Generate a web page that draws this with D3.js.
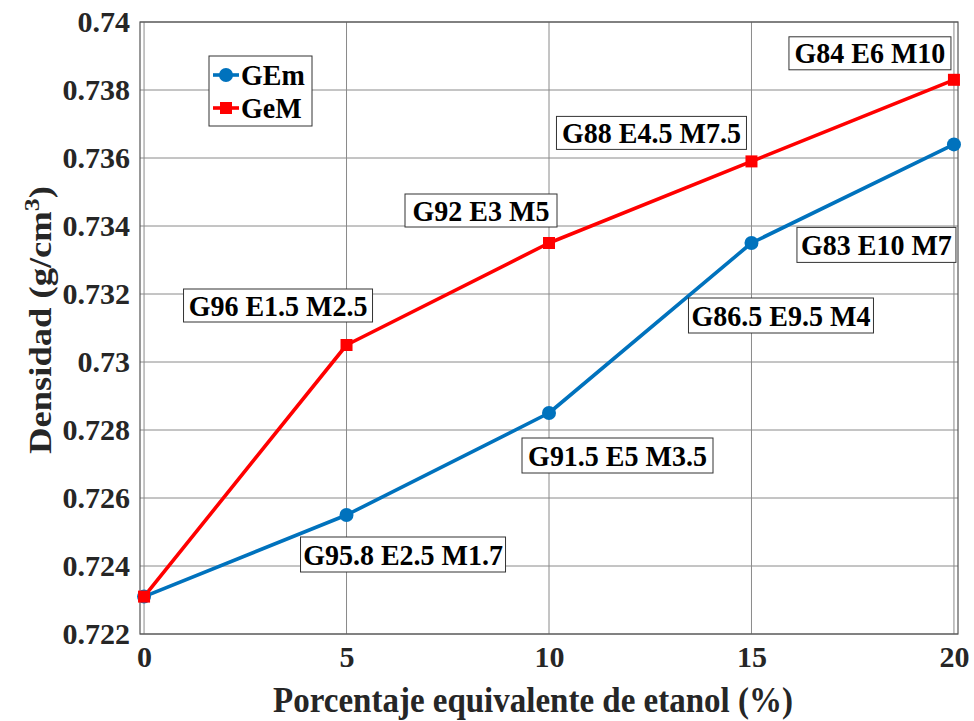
<!DOCTYPE html>
<html>
<head>
<meta charset="utf-8">
<script src="https://cdn.jsdelivr.net/npm/d3@7"></script>
<style>
  html, body { margin: 0; padding: 0; background: #fff; }
  svg { display: block; }
  text { font-family: "Liberation Serif", "Times New Roman", serif; font-weight: bold; fill: #262626; }
</style>
</head>
<body>
<script>
// Ethanol-equivalent percentage on the x axis
const ethanolPct = [0, 5, 10, 15, 20];
// Density (g/cm3) for each blend family
const densityGEm = [0.7231, 0.7255, 0.7285, 0.7335, 0.7364];
const densityGeM = [0.7231, 0.7305, 0.7335, 0.7359, 0.7383];
// Blend composition labels
const labelsGEm = ["", "G95.8 E2.5 M1.7", "G91.5 E5 M3.5", "G86.5 E9.5 M4", "G83 E10 M7"];
const labelsGeM = ["", "G96 E1.5 M2.5", "G92 E3 M5", "G88 E4.5 M7.5", "G84 E6 M10"];
const xTicks = [0, 5, 10, 15, 20];
const yTicks = [0.722, 0.724, 0.726, 0.728, 0.73, 0.732, 0.734, 0.736, 0.738, 0.74];
const seriesNames = ["GEm", "GeM"];

const W = 974, H = 721;
const pL = 140, pR = 958, pT = 22, pB = 634;

const svg = d3.select("body").append("svg").attr("width", W).attr("height", H);

const x = d3.scaleLinear().domain([-0.1, 20.1]).range([pL, pR]);
const y = d3.scaleLinear().domain([0.722, 0.74]).range([pB, pT]);

// grid
const grid = svg.append("g");
grid.selectAll(".gx").data(xTicks).enter().append("line")
  .attr("x1", d => x(d)).attr("x2", d => x(d))
  .attr("y1", pT).attr("y2", pB)
  .attr("stroke", "#8a8a8a").attr("stroke-width", 1);
grid.selectAll(".gy").data(yTicks).enter().append("line")
  .attr("x1", pL).attr("x2", pR)
  .attr("y1", d => y(d)).attr("y2", d => y(d))
  .attr("stroke", "#8a8a8a").attr("stroke-width", 1);

// frame
svg.append("rect").attr("x", pL).attr("y", pT)
  .attr("width", pR - pL).attr("height", pB - pT)
  .attr("fill", "none").attr("stroke", "#555").attr("stroke-width", 1.2);

// axes
const fmt = d => String(+d.toFixed(3));
const yAxis = d3.axisLeft(y).tickValues(yTicks).tickFormat(fmt).tickSize(0).tickPadding(10);
const gy = svg.append("g").attr("transform", `translate(${pL},0)`).call(yAxis);
gy.select(".domain").remove();
gy.selectAll("text").style("font-size", "30px").style("font-family", "'Liberation Serif', serif")
  .style("font-weight", "bold").attr("fill", "#262626");

const xAxis = d3.axisBottom(x).tickValues(xTicks).tickSize(0).tickPadding(12);
const gx = svg.append("g").attr("transform", `translate(0,${pB})`).call(xAxis);
gx.select(".domain").remove();
gx.selectAll("text").style("font-size", "30px").style("font-family", "'Liberation Serif', serif")
  .style("font-weight", "bold").attr("fill", "#262626");

// axis titles
svg.append("text").attr("transform", "translate(533,712) scale(1,1.06)")
  .attr("text-anchor", "middle").style("font-size", "33px")
  .text("Porcentaje equivalente de etanol (%)");

const yt = svg.append("text")
  .attr("transform", `translate(51,320) rotate(-90) scale(1.18,1)`)
  .attr("text-anchor", "middle").style("font-size", "31px");
yt.append("tspan").text("Densidad (g/cm");
yt.append("tspan").attr("dy", -12).style("font-size", "22px").text("3");
yt.append("tspan").attr("dy", 12).text(")");

// series
const colors = ["#0072BD", "#FF0000"];
const series = [densityGEm, densityGeM];
const line = d3.line().x((d, i) => x(ethanolPct[i])).y(d => y(d));

series.forEach((vals, s) => {
  svg.append("path").datum(vals).attr("d", line)
    .attr("fill", "none").attr("stroke", colors[s]).attr("stroke-width", 3.6)
    .attr("stroke-linejoin", "round");
});
// markers: circles for GEm, squares for GeM
svg.selectAll(".mc").data(densityGEm).enter().append("circle")
  .attr("cx", (d, i) => x(ethanolPct[i])).attr("cy", d => y(d)).attr("r", 7)
  .attr("fill", colors[0]);
svg.selectAll(".ms").data(densityGeM).enter().append("rect")
  .attr("x", (d, i) => x(ethanolPct[i]) - 6).attr("y", d => y(d) - 6)
  .attr("width", 12).attr("height", 12).attr("fill", colors[1]);

// annotation boxes: [point index, box left offset from point, box top offset from point, width]
const annGEm = [
  [1, -46, 22, 205],
  [2, -27, 25, 191],
  [3, -63, 55, 185],
  [4, -157, 83, 159]
];
const annGeM = [
  [1, -163, -56, 189],
  [2, -144, -49, 152],
  [3, -195, -45, 190],
  [4, -165, -43, 162]
];
function drawAnn(list, vals, labels, h) {
  list.forEach(([i, dx, dy, w]) => {
    const px = x(ethanolPct[i]), py = y(vals[i]);
    const g = svg.append("g").attr("transform", `translate(${px + dx},${py + dy})`);
    g.append("rect").attr("width", w).attr("height", h)
      .attr("fill", "#fff").attr("stroke", "#333").attr("stroke-width", 1);
    g.append("text").attr("transform", `translate(${w / 2},${h / 2 + 10}) scale(1,1.08)`)
      .attr("text-anchor", "middle")
      .style("font-size", "28px").style("fill", "#000").text(labels[i]);
  });
}
drawAnn(annGEm, densityGEm, labelsGEm, 35);
drawAnn(annGeM, densityGeM, labelsGeM, 33);

// legend
const lg = svg.append("g").attr("transform", "translate(209,56)");
lg.append("rect").attr("width", 103).attr("height", 70)
  .attr("fill", "#fff").attr("stroke", "#333").attr("stroke-width", 1);
seriesNames.forEach((name, s) => {
  const ly = 19 + s * 33;
  lg.append("line").attr("x1", 4).attr("x2", 30).attr("y1", ly).attr("y2", ly)
    .attr("stroke", colors[s]).attr("stroke-width", 3.6);
  if (s === 0) lg.append("circle").attr("cx", 17).attr("cy", ly).attr("r", 7).attr("fill", colors[s]);
  else lg.append("rect").attr("x", 11).attr("y", ly - 6).attr("width", 12).attr("height", 12).attr("fill", colors[s]);
  lg.append("text").attr("transform", `translate(32,${ly + 10}) scale(1,1.06)`).style("font-size", "28px")
    .style("fill", "#000").text(name);
});
</script>
</body>
</html>
